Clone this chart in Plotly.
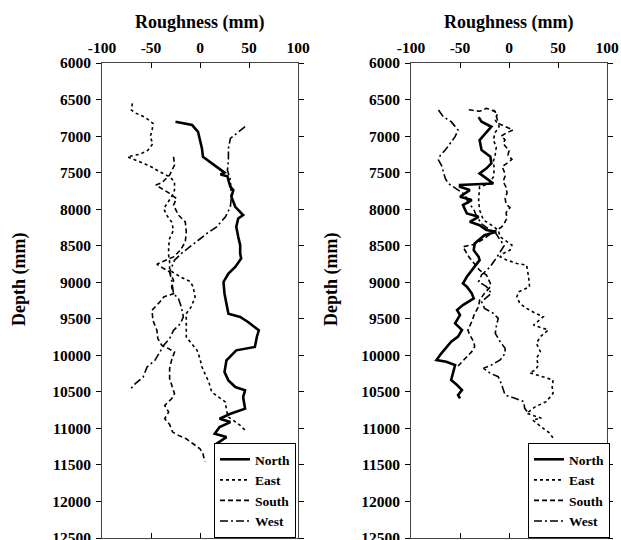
import plotly.graph_objects as go

# ---------------- Left panel data ----------------
left_north_depth = [6804, 6849, 6941, 7055, 7169, 7283, 7352, 7443, 7500, 7525, 7550, 7603, 7694, 7740, 7831, 7968, 8082, 8128, 8242, 8379, 8493, 8607, 8676, 8790, 8881, 8996, 9156, 9293, 9430, 9475, 9544, 9658, 9749, 9886, 9932, 10069, 10229, 10343, 10434, 10480, 10571, 10731, 10799, 10868, 10914, 10982, 11073, 11119, 11210, 11279, 11347]
left_north_rough = [-25, -8, -2, 0, 2, 3, 10, 19, 25, 21, 28, 29, 31, 34, 32, 36, 44, 39, 37, 39, 41, 41, 42, 36, 29, 24, 25, 27, 29, 41, 49, 60, 58, 56, 37, 27, 25, 29, 36, 46, 44, 46, 31, 20, 31, 20, 15, 27, 17, 20, 19]

left_east_depth = [6553, 6644, 6690, 6744, 6827, 6941, 7009, 7101, 7192, 7247, 7283, 7352, 7411, 7489, 7557, 7626, 7740, 7831, 7922, 7991, 8082, 8174, 8288, 8402, 8516, 8630, 8722, 8836, 8927, 8990, 9064, 9201, 9338, 9430, 9749, 9840, 9932, 10046, 10160, 10251, 10366, 10503, 10571, 10640, 10754, 10845, 10900, 10960, 11050]
left_east_rough = [-69, -70, -65, -56, -48, -49, -51, -48, -53, -61, -74, -61, -51, -41, -31, -26, -26, -29, -34, -37, -34, -29, -27, -31, -32, -32, -31, -31, -20, -10, -7, -5, -9, -14, -14, -9, -3, 0, 2, 5, 9, 12, 19, 26, 27, 29, 35, 41, 48]

left_south_depth = [7283, 7397, 7534, 7639, 7671, 7717, 7785, 7854, 7945, 8082, 8174, 8311, 8448, 8562, 8653, 8722, 8754, 8813, 8858, 8973, 9064, 9156, 9201, 9270, 9384, 9521, 9658, 9772, 9863, 9909, 9955, 10069, 10183, 10320, 10434, 10525, 10594, 10685, 10777, 10868, 10945, 11050, 11096, 11142, 11210, 11279, 11347, 11455]
left_south_rough = [-27, -26, -31, -39, -45, -39, -31, -24, -27, -22, -15, -14, -15, -20, -27, -39, -44, -37, -31, -27, -29, -27, -37, -41, -49, -48, -44, -43, -39, -32, -26, -29, -31, -31, -28, -26, -29, -36, -32, -36, -31, -28, -22, -14, -7, 0, 3, 5]

left_west_depth = [6872, 6941, 7032, 7169, 7329, 7466, 7603, 7831, 7968, 8105, 8242, 8333, 8425, 8516, 8607, 8699, 8790, 8858, 8973, 9156, 9224, 9338, 9475, 9567, 9658, 9772, 9863, 9955, 10069, 10160, 10297, 10388, 10480]
left_west_rough = [46, 39, 31, 29, 29, 28, 31, 32, 31, 26, 17, 7, -2, -10, -19, -26, -29, -31, -29, -27, -22, -19, -17, -20, -27, -31, -37, -41, -46, -54, -58, -66, -72]

# ---------------- Right panel data ----------------
right_north_depth = [6740, 6803, 6872, 7055, 7191, 7283, 7374, 7442, 7511, 7579, 7648, 7670, 7693, 7739, 7830, 7876, 7945, 8059, 8105, 8173, 8219, 8287, 8310, 8356, 8470, 8561, 8652, 8698, 8789, 8926, 9017, 9061, 9152, 9221, 9312, 9380, 9449, 9563, 9654, 9745, 9814, 9905, 9973, 10064, 10087, 10133, 10247, 10338, 10406, 10475, 10543, 10589]
right_north_rough = [-31, -28, -18, -30, -28, -19, -18, -23, -30, -23, -16, -50, -50, -40, -50, -38, -47, -43, -31, -40, -30, -23, -13, -25, -35, -36, -31, -30, -35, -43, -47, -43, -38, -36, -47, -53, -50, -55, -48, -52, -59, -65, -69, -74, -64, -55, -57, -59, -53, -48, -52, -50]

right_east_depth = [6640, 6700, 6780, 6870, 6950, 7050, 7150, 7250, 7350, 7450, 7560, 7648, 7693, 7876, 8013, 8150, 8218, 8287, 8378, 8447, 8492, 8561, 8606, 8652, 8698, 8743, 8766, 8926, 9063, 9130, 9198, 9289, 9358, 9426, 9472, 9586, 9654, 9745, 9836, 9950, 10041, 10133, 10201, 10238, 10292, 10338, 10429, 10520, 10634, 10703, 10794, 10860, 10885, 10931, 11022, 11068, 11136]
right_east_rough = [-16, -12, -14, -10, -14, -16, -13, -14, -16, -15, -16, -20, -30, -31, -30, -26, -18, -11, -9, -2, 3, 1, -6, -9, -2, 8, 18, 20, 21, 10, 8, 11, 18, 27, 35, 25, 40, 32, 28, 32, 28, 30, 27, 21, 35, 45, 44, 45, 38, 27, 18, 33, 24, 28, 37, 42, 45]

right_south_depth = [6640, 6660, 6620, 6666, 6826, 6871, 6917, 6960, 7000, 7050, 7100, 7150, 7200, 7260, 7320, 7380, 7420, 7480, 7550, 7620, 7700, 7780, 7850, 7930, 7980, 8050, 8120, 8200, 8250, 8300, 8400, 8480, 8515, 8652, 8835, 8903, 9017, 9061, 9152, 9244, 9335, 9426, 9540, 9654, 9722, 9814, 9882, 9950, 10019, 10087, 10146]
right_south_rough = [-41, -30, -23, -14, -11, -4, 4, -3, -8, -4, -6, -3, 0, -1, 3, -3, -7, -5, -4, -6, -3, -2, -4, -3, 1, -3, -2, -5, -8, -15, -25, -35, -47, -41, -30, -23, -19, -19, -25, -30, -31, -35, -38, -42, -40, -36, -35, -38, -43, -48, -52]

right_west_depth = [6643, 6735, 6803, 6917, 7008, 7100, 7191, 7260, 7328, 7397, 7488, 7579, 7648, 7693, 7739, 7800, 7900, 8000, 8100, 8200, 8280, 8320, 8400, 8500, 8650, 8800, 8900, 8993, 9061, 9152, 9266, 9358, 9426, 9494, 9608, 9700, 9814, 9905, 9973, 10064, 10133, 10178, 10247, 10292, 10384, 10475, 10543, 10589, 10634, 10726, 10794]
right_west_rough = [-72, -67, -59, -52, -55, -60, -65, -70, -72, -69, -67, -65, -62, -57, -52, -45, -42, -36, -33, -28, -20, -14, -10, -5, -12, -20, -28, -31, -23, -18, -28, -25, -16, -11, -13, -14, -9, -4, -4, -9, -18, -26, -19, -11, -8, -6, -4, 6, 15, 16, 20]

series_names = ["North", "East", "South", "West"]
x_ticks = [-100, -50, 0, 50, 100]
x_tick_labels = ["-100", "-50", "0", "50", "100"]
y_ticks = list(range(6000, 12501, 500))
y_tick_labels = [str(v) for v in y_ticks]
x_title = "Roughness (mm)"
y_title = "Depth (mm)"

styles = {
    "North": dict(color="black", width=2.6, dash="solid"),
    "East": dict(color="black", width=1.6, dash="dot"),
    "South": dict(color="black", width=1.6, dash="5px,3px"),
    "West": dict(color="black", width=1.6, dash="8px,3px,2px,3px"),
}

left = {
    "North": (left_north_rough, left_north_depth),
    "East": (left_east_rough, left_east_depth),
    "South": (left_south_rough, left_south_depth),
    "West": (left_west_rough, left_west_depth),
}
right = {
    "North": (right_north_rough, right_north_depth),
    "East": (right_east_rough, right_east_depth),
    "South": (right_south_rough, right_south_depth),
    "West": (right_west_rough, right_west_depth),
}

fig = go.Figure()
for name in series_names:
    xv, yv = left[name]
    fig.add_trace(go.Scatter(x=xv, y=yv, mode="lines", name=name, line=styles[name],
                             xaxis="x", yaxis="y", legend="legend"))
for name in series_names:
    xv, yv = right[name]
    fig.add_trace(go.Scatter(x=xv, y=yv, mode="lines", name=name, line=styles[name],
                             xaxis="x2", yaxis="y2", legend="legend2"))

W, H = 621, 540
font_family = "Liberation Serif, Times New Roman, serif"
tick_font = dict(family=font_family, size=15.5, color="black", weight="bold")
title_font = dict(family=font_family, size=18, color="black", weight="bold")

def px_x(p):
    return p / W

def px_y(p):
    return 1 - p / H

def xaxis_cfg(x0, x1, anchor):
    return dict(domain=[px_x(x0), px_x(x1)], range=[-100, 100], side="top", anchor=anchor,
                tickvals=x_ticks, ticktext=x_tick_labels, ticks="inside", ticklen=5,
                tickcolor="black", automargin=False, ticklabelstandoff=3,
                ticklabeloverflow="allow",
                showline=True, linecolor="#444", linewidth=1, mirror="ticks",
                showgrid=False, zeroline=False, tickfont=tick_font)

def yaxis_cfg(anchor):
    return dict(domain=[px_y(538), px_y(63)], range=[12500, 6000], anchor=anchor,
                tickvals=y_ticks, ticktext=y_tick_labels, ticks="outside", ticklen=5,
                tickcolor="black", automargin=False, ticklabelstandoff=2,
                ticklabeloverflow="allow",
                showline=True, linecolor="#444", linewidth=1, mirror="ticks",
                showgrid=False, zeroline=False, tickfont=tick_font)

legend_common = dict(bordercolor="black", borderwidth=1, bgcolor="white",
                     font=dict(family=font_family, size=13.5, color="black", weight="bold"),
                     xanchor="right", yanchor="bottom", tracegroupgap=0,
                     itemwidth=30)

annotations = []
for cx in (200, 509):
    annotations.append(dict(text=x_title, x=px_x(cx), y=px_y(22), xref="paper", yref="paper",
                            showarrow=False, xanchor="center", yanchor="middle", font=title_font))
for cx in (19, 331):
    annotations.append(dict(text=y_title, x=px_x(cx), y=px_y(280), xref="paper", yref="paper",
                            showarrow=False, xanchor="center", yanchor="middle", textangle=-90,
                            font=title_font))

fig.update_layout(
    width=W, height=H,
    margin=dict(l=0, r=0, t=0, b=0, autoexpand=False),
    paper_bgcolor="white", plot_bgcolor="white",
    xaxis=xaxis_cfg(102, 298, "y"),
    yaxis=yaxis_cfg("x"),
    xaxis2=xaxis_cfg(411, 607, "y2"),
    yaxis2=yaxis_cfg("x2"),
    legend=dict(x=px_x(296), y=px_y(538), **legend_common),
    legend2=dict(x=px_x(610), y=px_y(538), **legend_common),
    annotations=annotations,
)

fig.write_html("out.html",
               config={"displayModeBar": False},
               post_script="document.body.style.margin='0px';"
                           "document.body.style.overflow='hidden';")
